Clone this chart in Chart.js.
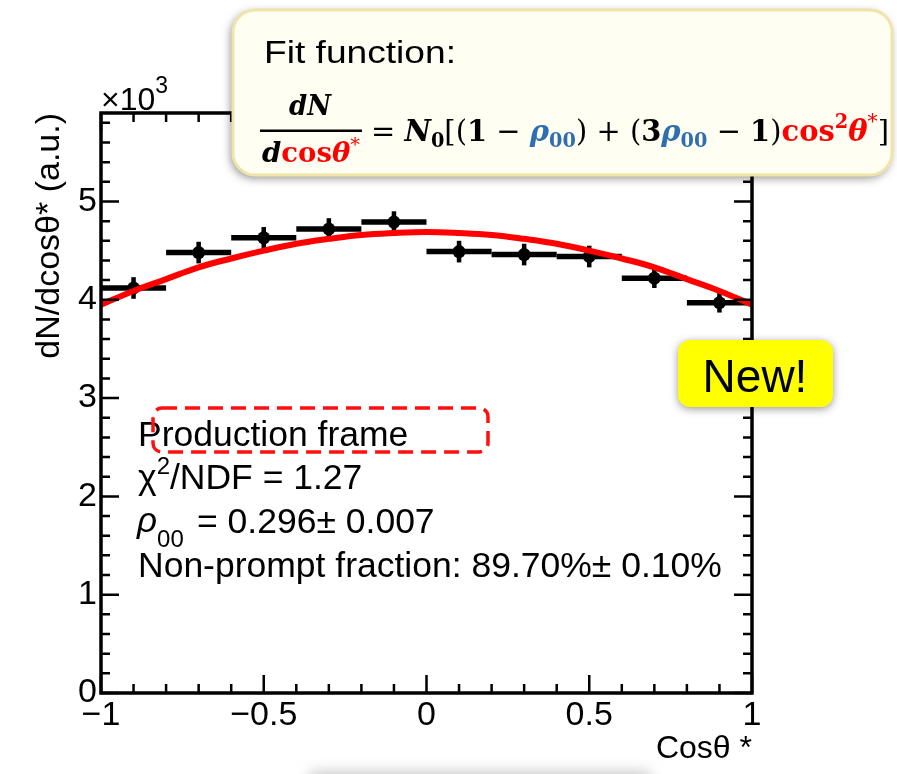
<!DOCTYPE html>
<html>
<head>
<meta charset="utf-8">
<script src="https://cdn.jsdelivr.net/npm/chart.js@4.4.0/dist/chart.umd.min.js"></script>
<style>
  html, body { margin: 0; padding: 0; background: #fff; }
  #wrap { position: relative; width: 897px; height: 774px; }
</style>
</head>
<body>
<div id="wrap"><canvas id="chart"></canvas></div>
<script>
/* ================================
   Data (y in units of 10^3)
================================ */
const binCenters = [-0.9, -0.7, -0.5, -0.3, -0.1, 0.1, 0.3, 0.5, 0.7, 0.9];
const binHalfWidths = [0.1, 0.1, 0.1, 0.1, 0.1, 0.1, 0.1, 0.1, 0.1, 0.1];
const counts = [4.12, 4.48, 4.63, 4.72, 4.79, 4.49, 4.46, 4.44, 4.22, 3.97];
const countErrors = [0.11, 0.11, 0.11, 0.11, 0.11, 0.11, 0.11, 0.11, 0.10, 0.10];

const fitX = [-1, -0.9, -0.8, -0.7, -0.6, -0.5, -0.4, -0.3, -0.2, -0.1, 0,
    0.1, 0.2, 0.3, 0.4, 0.5, 0.6, 0.7, 0.8, 0.9, 1];
const fitY = [3.95, 4.09, 4.21, 4.33, 4.42, 4.50, 4.57, 4.62, 4.66, 4.68, 4.69,
    4.68, 4.66, 4.62, 4.57, 4.50, 4.42, 4.33, 4.21, 4.09, 3.95];

const xTicks = [-1, -0.5, 0, 0.5, 1];
const yTicks = [0, 1, 2, 3, 4, 5];

const SANS = '"Liberation Sans", Arial, sans-serif';
const SERIF = '"DejaVu Serif", "Liberation Serif", serif';

/* ================================
   Helpers
================================ */
function roundRect(ctx, x, y, w, h, r) {
    ctx.beginPath();
    ctx.moveTo(x + r, y);
    ctx.arcTo(x + w, y, x + w, y + h, r);
    ctx.arcTo(x + w, y + h, x, y + h, r);
    ctx.arcTo(x, y + h, x, y, r);
    ctx.arcTo(x, y, x + w, y, r);
    ctx.closePath();
}

// draw a row of text runs, optionally squeezed/stretched to a width
function drawRuns(ctx, runs, x, baseline, width, align) {
    let total = 0;
    runs.forEach(function (r) {
        ctx.font = r.font;
        r.w = ctx.measureText(r.text).width;
        total += r.w;
    });
    const sx = width ? width / total : 1;
    let cx = align === "center" ? x - (total * sx) / 2 : x;
    runs.forEach(function (r) {
        ctx.save();
        ctx.font = r.font;
        ctx.fillStyle = r.color || "#000";
        ctx.textBaseline = "alphabetic";
        ctx.translate(cx, baseline + (r.dy || 0));
        ctx.scale(sx, 1);
        ctx.fillText(r.text, 0, 0);
        ctx.restore();
        cx += r.w * sx;
    });
}

/* ================================
   ROOT style frame + error bars
================================ */
const errorBars = {
    id: "errorBars",
    beforeDatasetsDraw: function (chart) {
        const ctx = chart.ctx;
        const xs = chart.scales.x;
        const ys = chart.scales.y;
        ctx.save();
        ctx.strokeStyle = "#000";
        ctx.lineCap = "butt";
        binCenters.forEach(function (c, i) {
            const py = ys.getPixelForValue(counts[i]);
            ctx.lineWidth = 5.5;
            ctx.beginPath();
            ctx.moveTo(xs.getPixelForValue(c - binHalfWidths[i]), py);
            ctx.lineTo(xs.getPixelForValue(c + binHalfWidths[i]), py);
            ctx.stroke();
            const px = xs.getPixelForValue(c);
            ctx.lineWidth = 4.5;
            ctx.beginPath();
            ctx.moveTo(px, ys.getPixelForValue(counts[i] - countErrors[i]));
            ctx.lineTo(px, ys.getPixelForValue(counts[i] + countErrors[i]));
            ctx.stroke();
        });
        ctx.restore();
    },
};

const rootFrame = {
    id: "rootFrame",
    afterDatasetsDraw: function (chart) {
        const ctx = chart.ctx;
        const a = chart.chartArea;
        const xs = chart.scales.x;
        const ys = chart.scales.y;
        ctx.save();
        ctx.strokeStyle = "#000";
        ctx.lineWidth = 2.5;
        ctx.beginPath();
        for (let i = 0; i <= 20; i++) {
            const px = xs.getPixelForValue(-1 + i * 0.1);
            const len = i % 5 === 0 ? 18 : 9;
            ctx.moveTo(px, a.bottom);
            ctx.lineTo(px, a.bottom - len);
            ctx.moveTo(px, a.top);
            ctx.lineTo(px, a.top + len);
        }
        for (let i = 0; i <= 29; i++) {
            const py = ys.getPixelForValue(i * 0.2);
            const len = i % 5 === 0 ? 18 : 9;
            ctx.moveTo(a.left, py);
            ctx.lineTo(a.left + len, py);
            ctx.moveTo(a.right, py);
            ctx.lineTo(a.right - len, py);
        }
        ctx.stroke();
        ctx.lineWidth = 3.5;
        ctx.strokeRect(a.left, a.top, a.right - a.left, a.bottom - a.top);

        // x10^3 multiplier
        ctx.fillStyle = "#000";
        drawRuns(ctx, [
            { text: "\u00d710", font: "32px " + SANS },
            { text: "3", font: "23px " + SANS, dy: -17 },
        ], a.left, 110);
        ctx.restore();
    },
};

/* ================================
   Annotations (stats text, boxes)
================================ */
const overlays = {
    id: "overlays",
    afterDraw: function (chart) {
        const ctx = chart.ctx;
        ctx.save();

        // stats text
        const f = "35.5px " + SANS;
        drawRuns(ctx, [{ text: "Production frame", font: f }], 138, 446);
        drawRuns(ctx, [
            { text: "\u03c7", font: f },
            { text: "2", font: "24px " + SANS, dy: -15 },
            { text: "/NDF = 1.27", font: f },
        ], 138, 489);
        drawRuns(ctx, [
            { text: "\u03c1", font: "italic 35px " + SANS },
            { text: "00", font: "24px " + SANS, dy: 15 },
        ], 137, 532);
        drawRuns(ctx, [{ text: "= 0.296\u00b1 0.007", font: f }], 197, 533);
        drawRuns(ctx, [{ text: "Non-prompt fraction: 89.70%\u00b1 0.10%", font: f }], 138, 577);

        // red dashed box around "roduction frame"
        ctx.strokeStyle = "#ff1010";
        ctx.lineWidth = 3.5;
        ctx.setLineDash([15, 8]);
        roundRect(ctx, 153, 408, 335, 44, 9);
        ctx.stroke();
        ctx.setLineDash([]);

        // fit function box
        ctx.save();
        ctx.shadowColor = "rgba(0,0,0,0.45)";
        ctx.shadowBlur = 10;
        ctx.shadowOffsetX = -2;
        ctx.shadowOffsetY = 3;
        roundRect(ctx, 233, 10, 659, 165, 22);
        ctx.fillStyle = "#fefef2";
        ctx.fill();
        ctx.restore();
        roundRect(ctx, 233, 10, 659, 165, 22);
        ctx.strokeStyle = "#f0e4a8";
        ctx.lineWidth = 3;
        ctx.stroke();

        drawRuns(ctx, [{ text: "Fit function:", font: "32px " + SANS }], 264, 63, 192);

        const bi = "bold italic 27px " + SERIF;
        const b = "bold 27px " + SERIF;
        const red = "#ff0000";
        const blue = "#2f6eaf";
        drawRuns(ctx, [{ text: "dN", font: bi }], 310, 115, 42, "center");
        ctx.fillStyle = "#000";
        ctx.fillRect(260, 129.5, 102, 2.5);
        drawRuns(ctx, [
            { text: "d", font: bi },
            { text: "cos", font: b, color: red },
            { text: "\u03b8", font: bi, color: red },
            { text: "*", font: "19px " + SERIF, color: red, dy: -11 },
        ], 311, 162, 98, "center");

        const mbi = "bold italic 30px " + SERIF;
        const mb = "bold 30px " + SERIF;
        const mr = "30px " + SERIF;
        const msub = "bold 20px " + SERIF;
        const mstar = "21px " + SERIF;
        drawRuns(ctx, [
            { text: "= ", font: mr },
            { text: "N", font: mbi },
            { text: "0", font: msub, dy: 6 },
            { text: "[(", font: mr },
            { text: "1", font: mb },
            { text: " \u2212 ", font: mr },
            { text: "\u03c1", font: mbi, color: blue },
            { text: "00", font: msub, color: blue, dy: 6 },
            { text: ") + (", font: mr },
            { text: "3", font: mb },
            { text: "\u03c1", font: mbi, color: blue },
            { text: "00", font: msub, color: blue, dy: 6 },
            { text: " \u2212 ", font: mr },
            { text: "1", font: mb },
            { text: ")", font: mr },
            { text: "cos", font: mb, color: red },
            { text: "2", font: msub, color: red, dy: -13 },
            { text: "\u03b8", font: mbi, color: red },
            { text: "*", font: mstar, color: red, dy: -13 },
            { text: "]", font: mr },
        ], 371, 141, 518);

        // New! badge
        ctx.save();
        ctx.shadowColor = "rgba(0,0,0,0.4)";
        ctx.shadowBlur = 8;
        ctx.shadowOffsetY = 2;
        roundRect(ctx, 678, 340, 155, 67, 12);
        ctx.fillStyle = "#ffff00";
        ctx.fill();
        ctx.restore();
        drawRuns(ctx, [{ text: "New!", font: "46px " + SANS }], 755, 392, 0, "center");

        // blurred shadow at the bottom edge
        ctx.save();
        ctx.filter = "blur(7px)";
        ctx.fillStyle = "rgba(110,110,110,0.4)";
        ctx.fillRect(310, 772, 340, 20);
        ctx.restore();

        ctx.restore();
    },
};

/* ================================
   Chart
================================ */
function minusLabel(value) {
    return String(value).replace("-", "\u2212");
}

const ctx = document.getElementById("chart").getContext("2d");
new Chart(ctx, {
    type: "scatter",
    data: {
        datasets: [{
            label: "Fit",
            type: "line",
            data: fitX.map(function (x, i) { return { x: x, y: fitY[i] }; }),
            borderColor: "#ff0000",
            borderWidth: 6,
            pointRadius: 0,
            tension: 0.4,
            fill: false,
            order: 0,
        }, {
            label: "Data",
            data: binCenters.map(function (x, i) { return { x: x, y: counts[i] }; }),
            pointRadius: 6.5,
            pointBackgroundColor: "#000",
            pointBorderWidth: 0,
            order: 1,
        }],
    },
    options: {
        responsive: true,
        maintainAspectRatio: false,
        animation: false,
        layout: { padding: { left: 0, right: 145, top: 113, bottom: 0 } },
        plugins: {
            legend: { display: false },
            tooltip: { enabled: false },
        },
        scales: {
            x: {
                type: "linear",
                min: -1,
                max: 1,
                grid: { display: false, drawTicks: false, tickLength: 0 },
                border: { display: false },
                afterBuildTicks: function (axis) {
                    axis.ticks = xTicks.map(function (v) { return { value: v }; });
                },
                afterFit: function (axis) { axis.height = 81; },
                ticks: {
                    color: "#000",
                    padding: 2,
                    maxRotation: 0,
                    autoSkip: false,
                    font: { family: SANS, size: 34 },
                    callback: minusLabel,
                },
                title: {
                    display: true,
                    text: "Cos\u03b8 *",
                    align: "end",
                    color: "#000",
                    font: { family: SANS, size: 32 },
                    padding: { top: 0, bottom: 6 },
                },
            },
            y: {
                type: "linear",
                min: 0,
                max: 5.9,
                grid: { display: false, drawTicks: false, tickLength: 0 },
                border: { display: false },
                afterBuildTicks: function (axis) {
                    axis.ticks = yTicks.map(function (v) { return { value: v }; });
                },
                afterFit: function (axis) { axis.width = 101; },
                ticks: {
                    color: "#000",
                    padding: 4,
                    autoSkip: false,
                    font: { family: SANS, size: 34 },
                },
                title: {
                    display: true,
                    text: "dN/dcos\u03b8* (a.u.)",
                    align: "end",
                    color: "#000",
                    font: { family: SANS, size: 34 },
                    padding: { top: 29, bottom: 0 },
                },
            },
        },
    },
    plugins: [errorBars, rootFrame, overlays],
});
</script>
</body>
</html>
